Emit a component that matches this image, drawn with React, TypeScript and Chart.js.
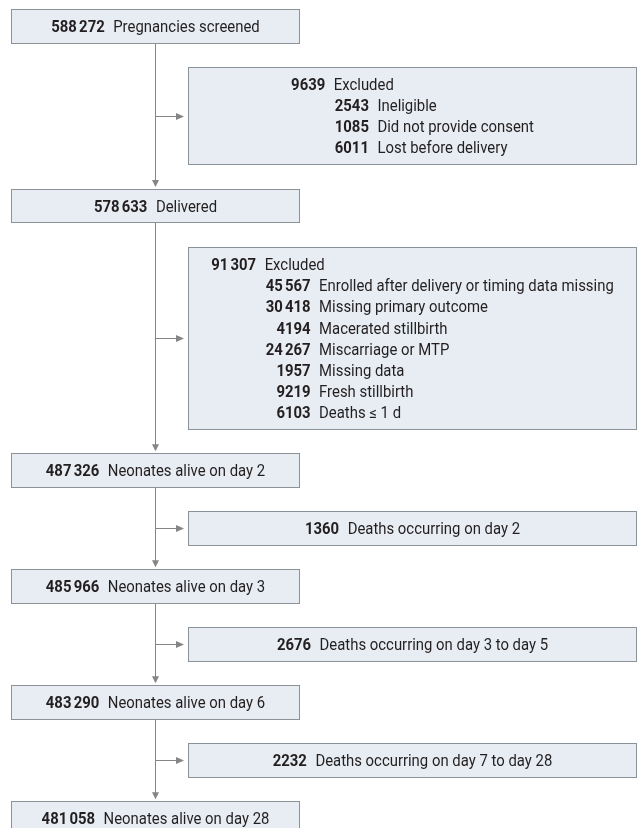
import React, { useEffect, useRef } from "react";
import { Chart, registerables } from "chart.js";

Chart.register(...registerables);

// ---------------- data ----------------
const mainLabels = [
  "Pregnancies screened",
  "Delivered",
  "Neonates alive on day 2",
  "Neonates alive on day 3",
  "Neonates alive on day 6",
  "Neonates alive on day 28",
];
const mainCounts = [588272, 578633, 487326, 485966, 483290, 481058];

const excl1Total = 9639;
const excl1Counts = [2543, 1085, 6011];
const excl1Labels = ["Ineligible", "Did not provide consent", "Lost before delivery"];

const excl2Total = 91307;
const excl2Counts = [45567, 30418, 4194, 24267, 1957, 9219, 6103];
const excl2Labels = [
  "Enrolled after delivery or timing data missing",
  "Missing primary outcome",
  "Macerated stillbirth",
  "Miscarriage or MTP",
  "Missing data",
  "Fresh stillbirth",
  "Deaths \u2264 1 d",
];
const exclHeader = "Excluded";

const deathCounts = [1360, 2676, 2232];
const deathLabels = [
  "Deaths occurring on day 2",
  "Deaths occurring on day 3 to day 5",
  "Deaths occurring on day 7 to day 28",
];

// ---------------- layout / style ----------------
const W = 638;
const H = 828;
const MAIN_X0 = 11;
const MAIN_X1 = 299;
const SIDE_X0 = 188;
const SIDE_X1 = 636;
const STEM_X = 155;
const TOP = 9;
const BOX_H = 33.5;
const GAP = 24.5;
const LINE_H = 21.1;
const MULTI_PAD = 13;
const FONT_FAMILY = "Roboto, 'Liberation Sans', sans-serif";
const FONT_SIZE = 15.6;
const SX = 0.955; // slight horizontal condensing of the type
const NUM_GAP = 8.5;
const GROUP_GAP = 2.2;
const SUB_INDENT = 1;
const FILL = "#e7edf2";
const BORDER = "#8c9398";
const LINE = "#858585";
const TEXT = "#231f20";

function groups(n: number): string[] {
  const s = String(n);
  if (n < 10000) return [s];
  const out: string[] = [];
  let i = s.length;
  while (i > 0) {
    out.unshift(s.slice(Math.max(0, i - 3), i));
    i -= 3;
  }
  return out;
}

type Item = {
  kind: "main" | "side";
  header?: [number, string];
  rows?: [number, string][];
  single?: [number, string];
  y0: number;
  y1: number;
};

function buildItems(): Item[] {
  const items: Item[] = [];
  let y = TOP;
  const pushMain = (i: number) => {
    items.push({ kind: "main", single: [mainCounts[i], mainLabels[i]], y0: y, y1: y + BOX_H });
    y += BOX_H + GAP;
  };
  const pushExcl = (total: number, counts: number[], labels: string[]) => {
    const n = counts.length + 1;
    const h = n * LINE_H + MULTI_PAD;
    items.push({
      kind: "side",
      header: [total, exclHeader],
      rows: counts.map((c, k) => [c, labels[k]] as [number, string]),
      y0: y,
      y1: y + h,
    });
    y += h + GAP;
  };
  const pushDeath = (i: number) => {
    items.push({ kind: "side", single: [deathCounts[i], deathLabels[i]], y0: y, y1: y + BOX_H });
    y += BOX_H + GAP;
  };
  pushMain(0);
  pushExcl(excl1Total, excl1Counts, excl1Labels);
  pushMain(1);
  pushExcl(excl2Total, excl2Counts, excl2Labels);
  pushMain(2);
  pushDeath(0);
  pushMain(3);
  pushDeath(1);
  pushMain(4);
  pushDeath(2);
  pushMain(5);
  return items;
}

const flowPlugin = {
  id: "flow",
  afterDraw(chart: any) {
    const items: Item[] = chart.options.plugins.flow.items;
    const ctx: CanvasRenderingContext2D = chart.ctx;
    const xs = chart.scales.x;
    const ys = chart.scales.y;
    const px = (v: number) => xs.getPixelForValue(v);
    const py = (v: number) => ys.getPixelForValue(v);
    const bold = `bold ${FONT_SIZE}px ${FONT_FAMILY}`;
    const reg = `${FONT_SIZE}px ${FONT_FAMILY}`;
    const put = (s: string, x: number, y: number) => {
      ctx.save();
      ctx.translate(x, y);
      ctx.scale(SX, 1);
      ctx.fillText(s, 0, 0);
      ctx.restore();
    };
    const wR = (s: string) => {
      ctx.font = reg;
      return ctx.measureText(s).width * SX;
    };
    const wNum = (n: number) => {
      ctx.font = bold;
      const g = groups(n);
      return g.reduce((a, s) => a + ctx.measureText(s).width * SX, 0) + GROUP_GAP * (g.length - 1);
    };
    const drawNum = (n: number, x: number, y: number) => {
      ctx.font = bold;
      let cx = x;
      groups(n).forEach((s) => {
        put(s, cx, y);
        cx += ctx.measureText(s).width * SX + GROUP_GAP;
      });
    };
    const drawLab = (s: string, x: number, y: number) => {
      ctx.font = reg;
      put(s, x, y);
    };
    const base = (cy: number) => cy + 5.6;

    ctx.save();
    const mains = items.filter((it) => it.kind === "main");
    const sx = Math.round(px(STEM_X)) + 0.5;
    ctx.strokeStyle = LINE;
    ctx.lineWidth = 1;
    for (let i = 0; i < mains.length - 1; i++) {
      const a = py(mains[i].y1);
      const b = py(mains[i + 1].y0) - 2;
      ctx.beginPath();
      ctx.moveTo(sx, a);
      ctx.lineTo(sx, b - 6);
      ctx.stroke();
      ctx.fillStyle = LINE;
      ctx.beginPath();
      ctx.moveTo(sx - 3.5, b - 7);
      ctx.lineTo(sx + 3.5, b - 7);
      ctx.lineTo(sx, b);
      ctx.closePath();
      ctx.fill();
    }
    items
      .filter((it) => it.kind === "side")
      .forEach((it) => {
        const cy = Math.round(py((it.y0 + it.y1) / 2)) + 0.5;
        const tip = px(SIDE_X0) - 4;
        ctx.beginPath();
        ctx.moveTo(sx, cy);
        ctx.lineTo(tip - 6, cy);
        ctx.stroke();
        ctx.fillStyle = LINE;
        ctx.beginPath();
        ctx.moveTo(tip - 8, cy - 3.5);
        ctx.lineTo(tip - 8, cy + 3.5);
        ctx.lineTo(tip, cy);
        ctx.closePath();
        ctx.fill();
      });

    items.forEach((it) => {
      const x0 = Math.round(px(it.kind === "main" ? MAIN_X0 : SIDE_X0)) + 0.5;
      const x1 = Math.round(px(it.kind === "main" ? MAIN_X1 : SIDE_X1)) + 0.5;
      const y0 = Math.round(py(it.y0)) + 0.5;
      const y1 = Math.round(py(it.y1)) + 0.5;
      ctx.fillStyle = FILL;
      ctx.fillRect(x0, y0, x1 - x0, y1 - y0);
      ctx.strokeStyle = BORDER;
      ctx.lineWidth = 1;
      ctx.strokeRect(x0, y0, x1 - x0, y1 - y0);

      ctx.fillStyle = TEXT;
      ctx.textBaseline = "alphabetic";
      ctx.textAlign = "left";
      const cx = (x0 + x1) / 2;
      if (it.single) {
        const [n, l] = it.single;
        const nW = wNum(n);
        const lW = wR(l);
        const total = nW + NUM_GAP + lW;
        const sx0 = cx - total / 2;
        const by = base((y0 + y1) / 2);
        drawNum(n, sx0, by);
        drawLab(l, sx0 + nW + NUM_GAP, by);
      } else if (it.header && it.rows) {
        const [hn, hl] = it.header;
        const hnW = wNum(hn);
        const subNumW = it.rows.map((r) => wNum(r[0]));
        const subNumMax = Math.max(...subNumW);
        const subLabMax = Math.max(...it.rows.map((r) => wR(r[1])));
        const restW = Math.max(wR(hl), SUB_INDENT + subNumMax + NUM_GAP + subLabMax);
        const blockW = hnW + NUM_GAP + restW;
        const bx = cx - blockW / 2;
        const colL = bx + hnW + NUM_GAP;
        const n = it.rows.length + 1;
        const pad = (y1 - y0 - n * LINE_H) / 2;
        const lineC = (k: number) => y0 + pad + LINE_H * (k + 0.5);
        drawNum(hn, bx, base(lineC(0)));
        drawLab(hl, colL, base(lineC(0)));
        const numRight = colL + SUB_INDENT + subNumMax;
        it.rows.forEach((r, k) => {
          const by = base(lineC(k + 1));
          drawNum(r[0], numRight - subNumW[k], by);
          drawLab(r[1], numRight + NUM_GAP, by);
        });
      }
    });
    ctx.restore();
  },
};

export default function App() {
  const ref = useRef<HTMLCanvasElement | null>(null);
  useEffect(() => {
    if (!ref.current) return;
    const items = buildItems();
    const chart = new Chart(ref.current, {
      type: "scatter",
      data: {
        datasets: [
          {
            label: "boxes",
            data: items.map((it) => ({
              x: it.kind === "main" ? (MAIN_X0 + MAIN_X1) / 2 : (SIDE_X0 + SIDE_X1) / 2,
              y: (it.y0 + it.y1) / 2,
            })),
            pointRadius: 0,
            pointHoverRadius: 0,
          },
        ],
      },
      options: {
        responsive: false,
        maintainAspectRatio: false,
        animation: false,
        layout: { padding: 0 },
        events: [],
        scales: {
          x: { type: "linear", min: 0, max: W, display: false },
          y: { type: "linear", min: 0, max: H, reverse: true, display: false },
        },
        plugins: {
          legend: { display: false },
          tooltip: { enabled: false },
          flow: { items },
        } as any,
      },
      plugins: [flowPlugin],
    });
    return () => chart.destroy();
  }, []);
  return (
    <div style={{ position: "absolute", left: 0, top: 0, width: W, height: H, background: "#fff" }}>
      <canvas ref={ref} width={W} height={H} style={{ display: "block", width: W, height: H }} />
    </div>
  );
}
